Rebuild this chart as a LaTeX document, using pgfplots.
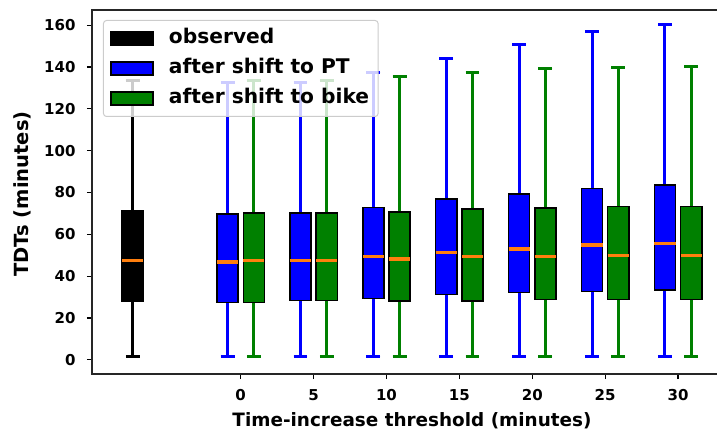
\documentclass[border=0pt]{standalone}
\usepackage{pgfplots}
\pgfplotsset{compat=1.18}
\usepgfplotslibrary{statistics}
\usepackage{fontspec}
\setmainfont{DejaVu Sans}

\definecolor{mplorange}{HTML}{FF7F0E}
\definecolor{mplgreen}{RGB}{0,128,0}
\definecolor{mplblue}{RGB}{0,0,255}

% one box: position, colour, lower whisker, Q1, median, Q3, upper whisker
\newcommand{\tdtbox}[7]{%
  \addplot[forget plot, draw=black, fill=#2, line width=1.5pt,
    boxplot/draw direction=y,
    boxplot prepared={draw position=#1,
      lower whisker=#3, lower quartile=#4, median=#5,
      upper quartile=#6, upper whisker=#7,
      box extend=0.29, whisker extend=0.19,
      every whisker/.style={draw=#2, line width=3pt},
      every median/.style={draw=mplorange, line width=3.5pt}}]
  coordinates {};}

\pgfplotsset{patch/.style={legend image code/.code={%
  \draw[sharp corners, fill opacity=1, draw opacity=1, draw=black,
        line width=1.5pt, fill=#1] (0pt,-6.5pt) rectangle (42pt,6.5pt);}}}

\begin{document}
\begin{tikzpicture}
\begin{axis}[
    at={(0,0)}, anchor=south west,
    scale only axis,
    width=640pt, height=364pt,
    xmin=-2.04, xmax=6.74,
    ymin=-6.8, ymax=167.3,
    xtick={0,1,2,3,4,5,6},
    xticklabels={0,5,10,15,20,25,30},
    ytick={0,20,...,160},
    tick align=outside,
    tick pos=left,
    major tick length=5pt,
    tick style={line width=1.2pt, black},
    axis line style={line width=1.3pt, black!85},
    tick label style={font=\bfseries\fontsize{15}{18}\selectfont},
    yticklabel style={xshift=-8pt},
    xticklabel style={yshift=-7pt},
    /pgf/number format/assume math mode=true,
    xlabel={Time-increase threshold (minutes)},
    ylabel={TDTs (minutes)},
    every axis x label/.style={at={(axis description cs:0.5,0)}, anchor=base,
      yshift=-52.5pt, font=\bfseries\fontsize{18.4}{22}\selectfont},
    every axis y label/.style={at={(axis description cs:0,0.5)}, xshift=-70pt,
      yshift=-2pt, rotate=90, anchor=center,
      font=\bfseries\fontsize{19.5}{23}\selectfont},
    legend style={at={(axis description cs:0,1)}, anchor=north west,
      xshift=11pt, yshift=-10pt,
      draw=black!20, line width=1pt, rounded corners=3pt,
      fill=white, fill opacity=0.8, text opacity=1,
      inner sep=7pt, row sep=8pt,
      font=\bfseries\fontsize{20.2}{24}\selectfont,
      nodes={inner sep=2pt, text height=14pt, text depth=4pt},
      /tikz/every odd column/.append style={column sep=13pt}},
    legend cell align=left,
  ]
% observed
\tdtbox{-1.48}{black}{1.5}{27.8}{47.4}{71.2}{133.8}
% after shift to PT (blue) and to bike (green), thresholds 0..30
\tdtbox{-0.18}{mplblue}{1.5}{27.3}{46.8}{69.7}{132.7}
\tdtbox{0.18}{mplgreen}{1.5}{27.3}{47.4}{70.2}{133.8}
\tdtbox{0.82}{mplblue}{1.5}{28.3}{47.4}{70.3}{132.7}
\tdtbox{1.18}{mplgreen}{1.5}{28.3}{47.4}{70.3}{133.8}
\tdtbox{1.82}{mplblue}{1.5}{29.4}{49.3}{72.9}{137.5}
\tdtbox{2.18}{mplgreen}{1.5}{28.1}{48.1}{70.8}{135.4}
\tdtbox{2.82}{mplblue}{1.5}{31.3}{51.2}{76.8}{144.2}
\tdtbox{3.18}{mplgreen}{1.5}{28.1}{49.3}{72.0}{137.3}
\tdtbox{3.82}{mplblue}{1.5}{32.1}{53.1}{79.3}{150.9}
\tdtbox{4.18}{mplgreen}{1.5}{28.9}{49.3}{72.7}{139.1}
\tdtbox{4.82}{mplblue}{1.5}{32.6}{54.9}{82.0}{156.9}
\tdtbox{5.18}{mplgreen}{1.5}{28.9}{49.8}{73.2}{139.9}
\tdtbox{5.82}{mplblue}{1.5}{33.4}{55.7}{83.6}{160.4}
\tdtbox{6.18}{mplgreen}{1.5}{28.9}{49.8}{73.2}{140.5}

\addlegendimage{patch=black}
\addlegendentry{observed}
\addlegendimage{patch=mplblue}
\addlegendentry{after shift to PT}
\addlegendimage{patch=mplgreen}
\addlegendentry{after shift to bike}
\end{axis}
\pgfresetboundingbox
\path (-92pt,-59pt) rectangle (625pt,374pt);
\end{tikzpicture}
\end{document}
